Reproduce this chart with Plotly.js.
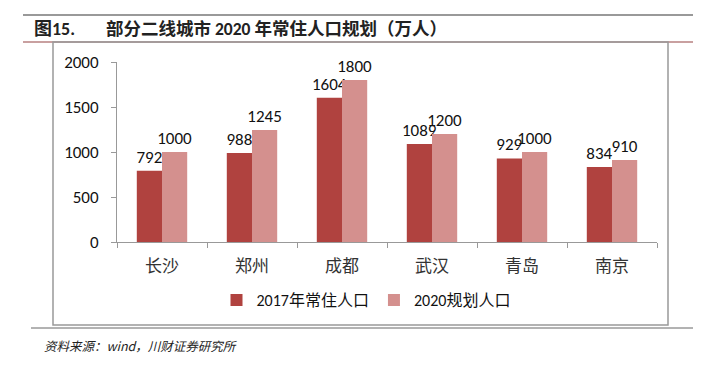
<!DOCTYPE html>
<html><head><meta charset="utf-8">
<script src="https://cdn.plot.ly/plotly-3.0.1.min.js"></script>
<style>html,body{margin:0;padding:0;background:#fff;}#chart{width:704px;height:369px;}</style>
</head><body><div id="chart"></div>
<script>
const cities = ["长沙", "郑州", "成都", "武汉", "青岛", "南京"];
const pop2017 = [792, 988, 1604, 1089, 929, 834];
const plan2020 = [1000, 1245, 1800, 1200, 1000, 910];
const seriesNames = ["2017年常住人口", "2020规划人口"];
const titleLabel = "<b>图15.</b>";
const titleText = "<b>部分二线城市 2020 年常住人口规划（万人）</b>";
const sourceText = "资料来源：wind，川财证券研究所";
const yTicks = [0, 500, 1000, 1500, 2000];

const numFont = {family: "Carlito, 'Liberation Sans', 'DejaVu Sans', sans-serif", size: 17, color: "#111"};
const cjkFont = "'Noto Sans CJK SC', sans-serif";

const traces = [
  {type: "bar", name: seriesNames[0], x: cities, y: pop2017, marker: {color: "#B0423F"},
   text: pop2017.map(String), textposition: "outside", cliponaxis: false, constraintext: "none",
   textfont: numFont},
  {type: "bar", name: seriesNames[1], x: cities, y: plan2020, marker: {color: "#D4908E"},
   text: plan2020.map(String), textposition: "outside", cliponaxis: false, constraintext: "none",
   textfont: numFont}
];

function px(x) { return (x - 117) / 540; }
function py(y) { return (242 - y) / 180; }

const layout = {
  width: 704, height: 369,
  margin: {l: 117, r: 47, t: 62, b: 127},
  paper_bgcolor: "#fff", plot_bgcolor: "#fff",
  barmode: "group", bargap: 0.44, bargroupgap: 0,
  showlegend: true,
  legend: {orientation: "h", x: px(366), xanchor: "center", y: py(300), yanchor: "middle",
    font: {family: "Carlito, 'Liberation Sans', " + cjkFont, size: 16, color: "#111"},
    itemwidth: 30, traceorder: "normal"},
  xaxis: {type: "category", showline: true, linecolor: "#999", linewidth: 1,
    ticks: "outside", tickson: "boundaries", ticklen: 5, tickcolor: "#999",
    showgrid: false, zeroline: false, ticklabelstandoff: 9,
    tickfont: {family: cjkFont, size: 17, color: "#333"}},
  yaxis: {range: [0, 2000], tickvals: yTicks, showline: true, linecolor: "#999", linewidth: 1,
    ticks: "outside", ticklen: 5, tickcolor: "#999", showgrid: false, zeroline: false,
    tickfont: numFont, ticklabelstandoff: 9},
  font: {family: cjkFont},
  annotations: [
    {text: titleLabel, xref: "paper", yref: "paper", x: px(32), y: py(29),
     xanchor: "left", yanchor: "middle", showarrow: false,
     font: {family: "Carlito, " + cjkFont, size: 18, color: "#222"}},
    {text: titleText, xref: "paper", yref: "paper", x: px(104), y: py(29),
     xanchor: "left", yanchor: "middle", showarrow: false,
     font: {family: "Carlito, " + cjkFont, size: 17.5, color: "#222"}},
    {text: "<i>" + sourceText + "</i>", xref: "paper", yref: "paper", x: px(42), y: py(345),
     xanchor: "left", yanchor: "middle", showarrow: false,
     font: {family: cjkFont, size: 12.5, color: "#222"}}
  ],
  shapes: [
    {type: "line", xref: "paper", yref: "paper", x0: px(23), x1: px(693), y0: py(15), y1: py(15), line: {color: "#999", width: 2}},
    {type: "line", xref: "paper", yref: "paper", x0: px(23), x1: px(693), y0: py(42), y1: py(42), line: {color: "#C9A0A0", width: 2}},
    {type: "rect", xref: "paper", yref: "paper", x0: px(53), x1: px(668), y0: py(325), y1: py(42), line: {color: "#999", width: 1.5}},
    {type: "line", xref: "paper", yref: "paper", x0: px(31), x1: px(693), y0: py(328), y1: py(328), line: {color: "#666", width: 1}}
  ]
};

Plotly.newPlot("chart", traces, layout, {displayModeBar: false, staticPlot: true});
</script></body></html>
